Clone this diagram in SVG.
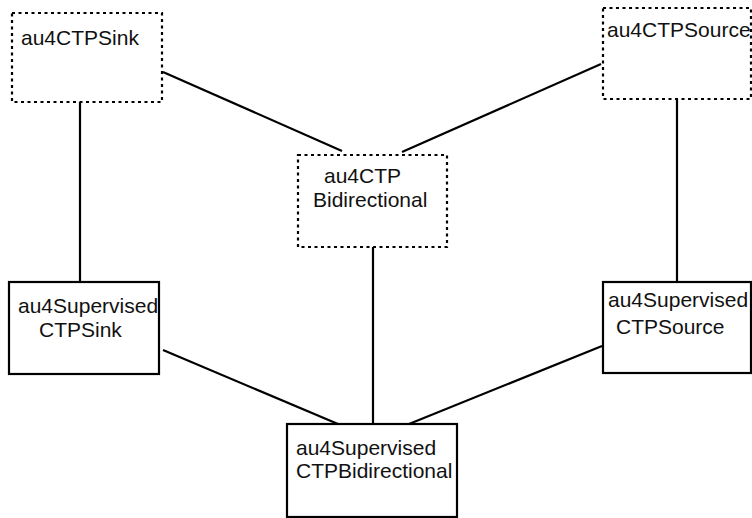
<svg xmlns="http://www.w3.org/2000/svg" width="752" height="518" viewBox="0 0 752 518">
<style>
.box{fill:#fff;stroke:#000;stroke-width:2.2}
.dot{fill:#fff;stroke:#000;stroke-width:2.2;stroke-dasharray:3 3.5}
.t{font-family:"Liberation Sans",Arial,sans-serif;font-size:21px;fill:#111}
.c{stroke:#000;stroke-width:2.2;fill:none}
</style>
<rect width="752" height="518" fill="#fff"/>
<g id="connectors">
<line class="c" x1="163" y1="72" x2="342" y2="151"/>
<line class="c" x1="601" y1="64" x2="402" y2="152"/>
<line class="c" x1="80" y1="102" x2="80" y2="282"/>
<line class="c" x1="677" y1="99" x2="677" y2="282"/>
<line class="c" x1="373" y1="247" x2="373" y2="424"/>
<line class="c" x1="163" y1="350" x2="338" y2="424"/>
<line class="c" x1="602" y1="346" x2="409" y2="424"/>
</g>
<g id="au4CTPSink">
<rect class="dot" x="12" y="13" width="150" height="89"/>
<text class="t" x="21" y="45">au4CTPSink</text>
</g>
<g id="au4CTPSource">
<rect class="dot" x="603" y="8" width="148" height="91"/>
<text class="t" x="607" y="37">au4CTPSource</text>
</g>
<g id="au4CTPBidirectional">
<rect class="dot" x="298" y="155" width="149" height="92"/>
<text class="t" x="324" y="183">au4CTP</text>
<text class="t" x="313" y="207">Bidirectional</text>
</g>
<g id="au4SupervisedCTPSink">
<rect class="box" x="9" y="282" width="150" height="92"/>
<text class="t" x="18" y="313">au4Supervised</text>
<text class="t" x="39" y="337">CTPSink</text>
</g>
<g id="au4SupervisedCTPSource">
<rect class="box" x="603" y="282" width="148" height="91"/>
<text class="t" x="608" y="307">au4Supervised</text>
<text class="t" x="616" y="334">CTPSource</text>
</g>
<g id="au4SupervisedCTPBidirectional">
<rect class="box" x="287" y="424" width="170" height="93"/>
<text class="t" x="296" y="455">au4Supervised</text>
<text class="t" x="296" y="478">CTPBidirectional</text>
</g>
</svg>
